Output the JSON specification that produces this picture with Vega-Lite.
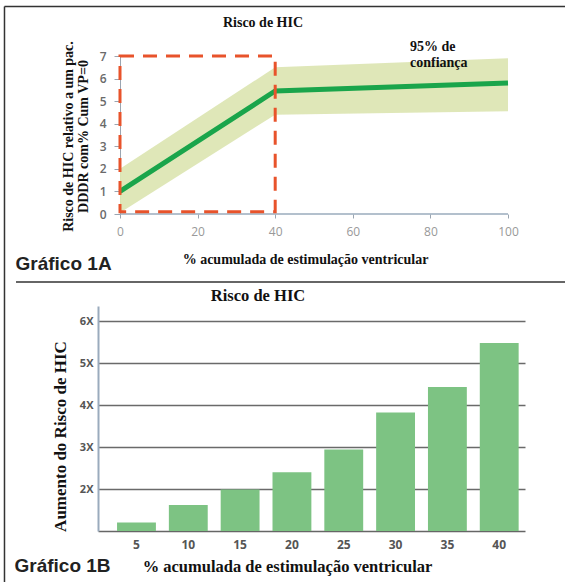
{
  "$schema": "https://vega.github.io/schema/vega-lite/v6.json",
  "padding": {"left": 3, "top": 5, "right": 0, "bottom": 0},
  "background": "white",
  "bounds": "flush",
  "spacing": 92,
  "config": {"view": {"stroke": null}},
  "datasets": {
    "band": [{"x": 0, "lo": 0.05, "hi": 2.0}, {"x": 40, "lo": 4.4, "hi": 6.5}, {"x": 100, "lo": 4.55, "hi": 6.9}],
    "line": [{"x": 0, "y": 1.0}, {"x": 40, "y": 5.45}, {"x": 100, "y": 5.8}],
    "box": [{"x": 0, "x2": 40, "y": 0.1, "y2": 7}],
    "baseline": [{"x": 0, "x2": 100, "y": 0}],
    "frame": [
      {"x": -29.77, "x2": 114.95, "y": 9.193, "y2": 9.193},
      {"x": -29.77, "x2": -29.77, "y": 9.193, "y2": -16.348},
      {"x": -26.8, "x2": 114.95, "y": -3.013, "y2": -3.013}
    ],
    "notes": [{"x": 74.74, "y": 7.2, "label": "95% de"}, {"x": 74.74, "y": 6.51, "label": "confiança"}],
    "titles": [{"x": 36.86, "y": 8.263, "label": "Risco de HIC", "size": 14}, {"x": 35.57, "y": -3.854, "label": "Risco de HIC", "size": 16.5}],
    "panels": [{"x": -26.93, "y": -2.494, "label": "Gráfico 1A"}, {"x": -27.19, "y": -15.861, "label": "Gráfico 1B"}],
    "bars": [
      {"pct": 5, "risk": 1.2}, {"pct": 10, "risk": 1.62}, {"pct": 15, "risk": 1.99}, {"pct": 20, "risk": 2.4},
      {"pct": 25, "risk": 2.94}, {"pct": 30, "risk": 3.82}, {"pct": 35, "risk": 4.43}, {"pct": 40, "risk": 5.48}
    ]
  },
  "vconcat": [
    {
      "width": 427,
      "height": 158,
      "layer": [
        {
          "data": {"name": "band"},
          "mark": {"type": "area", "color": "#dde6b4", "opacity": 0.95},
          "encoding": {
            "x": {"field": "x", "type": "quantitative", "scale": {"domain": [-5.67, 104.381], "nice": false, "zero": false},
              "axis": {"values": [0, 20, 40, 60, 80, 100], "domain": false, "grid": false, "tickSize": 4, "tickColor": "#9aa5b1", "labelFont": "Open Sans", "labelFontSize": 12, "labelColor": "#999", "labelPadding": 8,
                "title": "% acumulada de estimulação ventricular", "titleFont": "Liberation Serif", "titleFontSize": 14, "titleFontWeight": "bold", "titleColor": "#111", "titleX": 207, "titleY": 49, "titleBaseline": "alphabetic"}},
            "y": {"field": "lo", "type": "quantitative", "scale": {"domain": [0, 7], "nice": false, "zero": false},
              "axis": {"values": [0, 1, 2, 3, 4, 5, 6, 7], "tickCount": 8, "labelOverlap": false, "offset": -22, "grid": false, "domainColor": "#9aa5b1", "tickColor": "#9aa5b1", "tickSize": 6, "labelPadding": 8, "labelFont": "Open Sans", "labelFontSize": 12, "labelFontWeight": 600, "labelColor": "#6a6a6a",
                "title": ["Risco de HIC relativo a um pac.", "DDDR com% Cum VP=0"], "titleFont": "Liberation Serif", "titleFontSize": 14, "titleFontWeight": "bold", "titleColor": "#111", "titleLineHeight": 15, "titleX": -51.5, "titleY": 80, "titleBaseline": "middle", "titleAngle": -90}},
            "y2": {"field": "hi"}
          }
        },
        {
          "data": {"name": "line"},
          "mark": {"type": "line", "color": "#1aa54b", "strokeWidth": 5},
          "encoding": {
            "x": {"field": "x", "type": "quantitative", "scale": {"domain": [-5.67, 104.381], "nice": false, "zero": false}},
            "y": {"field": "y", "type": "quantitative", "scale": {"domain": [0, 7], "nice": false, "zero": false}}
          }
        },
        {
          "data": {"name": "baseline"},
          "mark": {"type": "rule", "color": "#9aabbd", "strokeWidth": 1.5},
          "encoding": {
            "x": {"field": "x", "type": "quantitative", "scale": {"domain": [-5.67, 104.381], "nice": false, "zero": false}},
            "x2": {"field": "x2"},
            "y": {"field": "y", "type": "quantitative", "scale": {"domain": [0, 7], "nice": false, "zero": false}}
          }
        },
        {
          "data": {"name": "box"},
          "mark": {"type": "rect", "filled": false, "stroke": "#e8532b", "strokeWidth": 3, "strokeDash": [14, 9]},
          "encoding": {
            "x": {"field": "x", "type": "quantitative", "scale": {"domain": [-5.67, 104.381], "nice": false, "zero": false}},
            "x2": {"field": "x2"},
            "y": {"field": "y", "type": "quantitative", "scale": {"domain": [0, 7], "nice": false, "zero": false}},
            "y2": {"field": "y2"}
          }
        },
        {
          "data": {"name": "frame"},
          "mark": {"type": "rule", "color": "#333", "strokeWidth": 1.5},
          "encoding": {
            "x": {"field": "x", "type": "quantitative", "scale": {"domain": [-5.67, 104.381], "nice": false, "zero": false}},
            "x2": {"field": "x2"},
            "y": {"field": "y", "type": "quantitative", "scale": {"domain": [0, 7], "nice": false, "zero": false}},
            "y2": {"field": "y2"}
          }
        },
        {
          "data": {"name": "notes"},
          "mark": {"type": "text", "align": "left", "baseline": "alphabetic", "font": "Liberation Serif", "fontSize": 14, "fontWeight": "bold", "color": "#111"},
          "encoding": {
            "x": {"field": "x", "type": "quantitative", "scale": {"domain": [-5.67, 104.381], "nice": false, "zero": false}},
            "y": {"field": "y", "type": "quantitative", "scale": {"domain": [0, 7], "nice": false, "zero": false}},
            "text": {"field": "label", "type": "nominal"}
          }
        },
        {
          "data": {"name": "titles"},
          "mark": {"type": "text", "align": "center", "baseline": "alphabetic", "font": "Liberation Serif", "fontWeight": "bold", "color": "#111"},
          "encoding": {
            "x": {"field": "x", "type": "quantitative", "scale": {"domain": [-5.67, 104.381], "nice": false, "zero": false}},
            "y": {"field": "y", "type": "quantitative", "scale": {"domain": [0, 7], "nice": false, "zero": false}},
            "size": {"field": "size", "type": "quantitative", "scale": null},
            "text": {"field": "label", "type": "nominal"}
          }
        },
        {
          "data": {"name": "panels"},
          "mark": {"type": "text", "align": "left", "baseline": "alphabetic", "font": "Liberation Sans", "fontSize": 19, "fontWeight": "bold", "color": "#222"},
          "encoding": {
            "x": {"field": "x", "type": "quantitative", "scale": {"domain": [-5.67, 104.381], "nice": false, "zero": false}},
            "y": {"field": "y", "type": "quantitative", "scale": {"domain": [0, 7], "nice": false, "zero": false}},
            "text": {"field": "label", "type": "nominal"}
          }
        }
      ]
    },
    {
      "width": 427,
      "height": 225,
      "data": {"name": "bars"},
      "mark": {"type": "bar", "color": "#7dc383"},
      "encoding": {
        "x": {"field": "pct", "type": "ordinal", "scale": {"paddingInner": 0.25, "paddingOuter": 0.245, "align": 0.75},
          "axis": {"domainColor": "#666", "domainWidth": 1.5, "ticks": false, "labelAngle": 0, "labelPadding": 8, "labelFont": "Open Sans", "labelFontSize": 12, "labelFontWeight": "bold", "labelColor": "#555",
            "title": "% acumulada de estimulação ventricular", "titleFont": "Liberation Serif", "titleFontSize": 16.5, "titleFontWeight": "bold", "titleColor": "#111", "titleX": 189, "titleY": 40, "titleBaseline": "alphabetic"}},
        "y": {"field": "risk", "type": "quantitative", "scale": {"domain": [1, 6.36], "nice": false, "zero": false},
          "axis": {"values": [2, 3, 4, 5, 6], "labelExpr": "datum.value + 'X'", "grid": true, "gridColor": "#6a6a6a", "gridWidth": 1.5, "domainColor": "#9aabbd", "domainWidth": 2, "ticks": false, "labelPadding": 5, "labelFont": "Open Sans", "labelFontSize": 11, "labelFontWeight": "bold", "labelColor": "#555",
            "title": "Aumento do Risco de HIC", "titleFont": "Liberation Serif", "titleFontSize": 17, "titleFontWeight": "bold", "titleColor": "#111", "titleX": -38, "titleY": 130, "titleBaseline": "middle", "titleAngle": -90}},
        "y2": {"datum": 1}
      }
    }
  ]
}
